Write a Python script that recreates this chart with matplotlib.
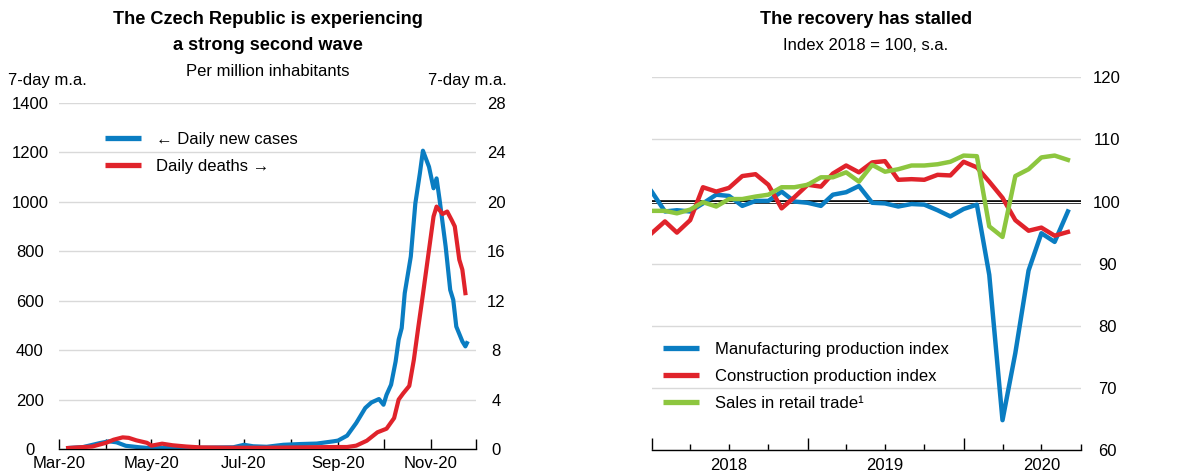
import matplotlib
matplotlib.use("Agg")
import matplotlib.pyplot as plt
import matplotlib.dates as mdates
from matplotlib.lines import Line2D
import pandas as pd

plt.rcParams['font.family'] = ['Liberation Sans', 'DejaVu Sans']

# ---------------- Left panel data (7-day m.a., per million) ----------------
case_dates = ["2020-03-07", "2020-03-17", "2020-03-28", "2020-04-03", "2020-04-08", "2020-04-14",
              "2020-04-23", "2020-05-01", "2020-05-11", "2020-06-02", "2020-06-24", "2020-07-01",
              "2020-07-07", "2020-07-16", "2020-07-27", "2020-08-07", "2020-08-18", "2020-08-29",
              "2020-09-01", "2020-09-07", "2020-09-13", "2020-09-19", "2020-09-23", "2020-09-28",
              "2020-10-01", "2020-10-03", "2020-10-06", "2020-10-09", "2020-10-11", "2020-10-13",
              "2020-10-15", "2020-10-19", "2020-10-22", "2020-10-25", "2020-10-27", "2020-10-31",
              "2020-11-03", "2020-11-05", "2020-11-07", "2020-11-11", "2020-11-14", "2020-11-16",
              "2020-11-18", "2020-11-22", "2020-11-24", "2020-11-25"]
daily_cases = [4, 8, 24, 31, 27, 13,
               7, 3, 4, 5, 7, 17,
               11, 9, 17, 20, 22, 31,
               34, 54, 105, 166, 188, 202,
               179, 219, 260, 354, 442, 489,
               630, 778, 993, 1115, 1206, 1141,
               1054, 1094, 1007, 818, 643, 603,
               495, 435, 415, 428]

death_dates = ["2020-03-07", "2020-03-23", "2020-04-01", "2020-04-06", "2020-04-12", "2020-04-16",
               "2020-04-21", "2020-04-28", "2020-05-01", "2020-05-08", "2020-05-15", "2020-05-24",
               "2020-06-02", "2020-06-24", "2020-07-16", "2020-08-07", "2020-08-29", "2020-09-07",
               "2020-09-13", "2020-09-20", "2020-09-27", "2020-10-03", "2020-10-08", "2020-10-11",
               "2020-10-14", "2020-10-18", "2020-10-21", "2020-10-24", "2020-10-27", "2020-10-31",
               "2020-11-03", "2020-11-05", "2020-11-09", "2020-11-12", "2020-11-15", "2020-11-17",
               "2020-11-20", "2020-11-22", "2020-11-24"]
daily_deaths = [0.08, 0.2, 0.5, 0.75, 0.94, 0.9,
                0.7, 0.5, 0.27, 0.43, 0.3, 0.2,
                0.13, 0.1, 0.1, 0.13, 0.16, 0.16,
                0.27, 0.67, 1.35, 1.64, 2.5, 4.0,
                4.5, 5.1, 7.2, 9.9, 12.5, 16.1,
                18.8, 19.6, 19.0, 19.2, 18.5, 18.0,
                15.3, 14.5, 12.6]

left_month_ticks = ["2020-03-01", "2020-04-01", "2020-05-01", "2020-06-01", "2020-07-01",
                    "2020-08-01", "2020-09-01", "2020-10-01", "2020-11-01", "2020-12-01"]
left_month_labels = ["Mar-20", "", "May-20", "", "Jul-20", "", "Sep-20", "", "Nov-20", ""]
left_yticks = [0, 200, 400, 600, 800, 1000, 1200, 1400]
right_yticks_deaths = [0, 4, 8, 12, 16, 20, 24, 28]

# ---------------- Right panel data (Index 2018 = 100, s.a.) ----------------
months = pd.date_range("2018-01-01", "2020-09-01", freq="MS")
manufacturing = [101.6, 98.4, 98.6, 98.4, 99.7, 101.1, 100.9, 99.3, 100.1, 100.1, 101.6, 100.0,
                 99.8, 99.3, 101.1, 101.5, 102.5, 99.8, 99.7, 99.2, 99.6, 99.5, 98.6, 97.6,
                 98.8, 99.5, 88.2, 64.8, 75.6, 88.9, 94.9, 93.5, 98.4]
construction = [94.9, 96.8, 95.0, 97.0, 102.3, 101.6, 102.2, 104.1, 104.4, 102.7, 98.9, 100.7,
                102.7, 102.4, 104.5, 105.8, 104.7, 106.3, 106.5, 103.5, 103.6, 103.5, 104.3, 104.2,
                106.4, 105.5, 103.2, 100.6, 97.0, 95.3, 95.8, 94.5, 95.1]
retail = [98.5, 98.5, 98.1, 98.7, 99.9, 99.2, 100.4, 100.4, 100.8, 101.1, 102.3, 102.3,
          102.7, 103.9, 103.9, 104.7, 103.2, 105.9, 104.8, 105.2, 105.8, 105.8, 106.0, 106.4,
          107.4, 107.3, 96.0, 94.3, 104.1, 105.2, 107.1, 107.4, 106.7]
right_yticks = [60, 70, 80, 90, 100, 110, 120]
year_labels = ["2018", "2019", "2020"]

BLUE = "#0a7dc2"
RED = "#e0232b"
GREEN = "#8dc63f"
GRID = "#d9d9d9"
FS = 12

fig = plt.figure(figsize=(11.94, 4.73), dpi=100)

# ---------------- Left panel ----------------
axL = fig.add_axes([59/1194, 1-449/473, (476-59)/1194, (449-102.7)/473])
axL2 = axL.twinx()
cd = pd.to_datetime(case_dates)
dd = pd.to_datetime(death_dates)
axL.plot(cd, daily_cases, color=BLUE, lw=3.0)
axL2.plot(dd, daily_deaths, color=RED, lw=3.0)
axL.set_ylim(0, 1400)
axL2.set_ylim(0, 28)
axL.set_xlim(pd.Timestamp("2020-03-01"), pd.Timestamp("2020-12-01"))
for a in (axL, axL2):
    for s in ("top", "left", "right"):
        a.spines[s].set_visible(False)
axL2.spines["bottom"].set_visible(False)
axL.spines["bottom"].set_linewidth(1.0)
axL.set_yticks(left_yticks)
axL.set_yticklabels([str(v) for v in left_yticks], fontsize=FS, ha='center')
axL.tick_params(axis='y', length=0, pad=21)
axL2.set_yticks(right_yticks_deaths)
axL2.set_yticklabels([str(v) for v in right_yticks_deaths], fontsize=FS, ha='center')
axL2.tick_params(axis='y', length=0, pad=14.5)
axL.grid(axis='y', color=GRID, lw=1.0)
axL.set_axisbelow(True)
axL.set_xticks(pd.to_datetime(left_month_ticks))
axL.set_xticklabels(left_month_labels, fontsize=FS)
axL.tick_params(axis='x', direction='in', length=7, width=1.0, pad=5)

hL = [Line2D([], [], color=BLUE, lw=3.8, solid_capstyle='butt'),
      Line2D([], [], color=RED, lw=3.8, solid_capstyle='butt')]
axL.legend(hL, ["\u2190 Daily new cases", "Daily deaths \u2192"], frameon=False, fontsize=FS,
           loc='upper left', bbox_to_anchor=(98/1194, 1-125/473), bbox_transform=fig.transFigure,
           handlelength=2.15, handletextpad=0.95, labelspacing=0.75, borderaxespad=0)

fig.text(268/1194, 1-20/473, "The Czech Republic is experiencing", fontsize=13.1, fontweight='bold',
         ha='center', va='center')
fig.text(268/1194, 1-45/473, "a strong second wave", fontsize=13.1, fontweight='bold',
         ha='center', va='center')
fig.text(268/1194, 1-71/473, "Per million inhabitants", fontsize=FS, ha='center', va='center')
fig.text(8/1194, 1-81/473, "7-day m.a.", fontsize=FS, ha='left', va='center')
fig.text(507/1194, 1-81/473, "7-day m.a.", fontsize=FS, ha='right', va='center')

# ---------------- Right panel ----------------
axR = fig.add_axes([651.7/1194, 1-450/473, (1080.7-651.7)/1194, (450-77.3)/473])
axR.plot(months, manufacturing, color=BLUE, lw=3.2)
axR.plot(months, construction, color=RED, lw=3.2)
axR.plot(months, retail, color=GREEN, lw=3.2)
axR.axhline(100, color='black', lw=2.6, zorder=1.5)
axR.axhline(100, color='white', lw=0.8, zorder=1.6)
axR.set_ylim(60, 120)
axR.set_xlim(pd.Timestamp("2018-01-01"), pd.Timestamp("2020-10-01"))
for s in ("top", "left", "right"):
    axR.spines[s].set_visible(False)
axR.spines["bottom"].set_linewidth(1.0)
axR.yaxis.tick_right()
axR.set_yticks(right_yticks)
axR.set_yticklabels([str(v) for v in right_yticks], fontsize=FS, ha='center')
axR.tick_params(axis='y', length=0, pad=19)
axR.grid(axis='y', color=GRID, lw=1.0)
axR.set_axisbelow(True)
year_starts = pd.to_datetime(["2018-01-01", "2019-01-01", "2020-01-01"])
quarters = pd.date_range("2018-01-01", "2020-10-01", freq="QS")
axR.set_xticks(year_starts)
axR.set_xticklabels([])
axR.set_xticks([q for q in quarters if q not in set(year_starts)], minor=True)
axR.tick_params(axis='x', which='major', direction='in', length=9, width=1.0)
axR.tick_params(axis='x', which='minor', direction='in', length=4, width=1.0)
for lab, yr in zip(year_labels, [2018, 2019, 2020]):
    axR.text(mdates.date2num(pd.Timestamp(f"{yr}-07-01")), -0.022, lab, fontsize=FS,
             ha='center', va='top', transform=axR.get_xaxis_transform())
hR = [Line2D([], [], color=c, lw=3.8, solid_capstyle='butt') for c in (BLUE, RED, GREEN)]
axR.legend(hR, ["Manufacturing production index", "Construction production index",
                "Sales in retail trade\u00b9"], frameon=False, fontsize=FS, loc='upper left',
           bbox_to_anchor=(656/1194, 1-335/473), bbox_transform=fig.transFigure,
           handlelength=2.2, handletextpad=0.95, labelspacing=0.72, borderaxespad=0)

fig.text(866/1194, 1-20/473, "The recovery has stalled", fontsize=13.1, fontweight='bold',
         ha='center', va='center')
fig.text(866/1194, 1-45/473, "Index 2018 = 100, s.a.", fontsize=FS, ha='center', va='center')

fig.savefig("out.png", dpi=100)
